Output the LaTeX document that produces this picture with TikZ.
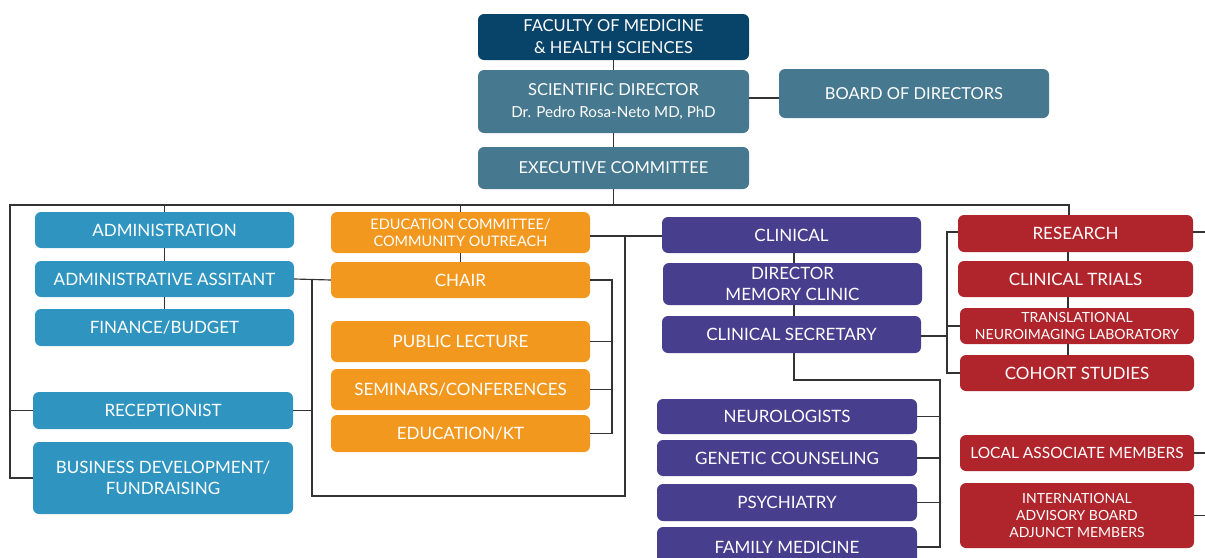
\documentclass[tikz,border=0pt]{standalone}
\usepackage{fontspec}
\setmainfont{Lato}
\definecolor{navy}{HTML}{08446A}
\definecolor{steel}{HTML}{46798F}
\definecolor{cblue}{HTML}{2F95C0}
\definecolor{corange}{HTML}{F3981F}
\definecolor{cpurple}{HTML}{473F8E}
\definecolor{cred}{HTML}{B0252C}
\definecolor{lgray}{HTML}{333333}
\tikzset{
  box/.style={rounded corners=6pt, draw=none, text=white, align=center, inner sep=0pt,
    font=\fontsize{17}{21}\selectfont},
  tp/.style={font=\fontsize{16.5}{22}\selectfont},
  sm/.style={font=\fontsize{14.5}{17.5}\selectfont},
  xs/.style={font=\fontsize{14}{17}\selectfont},
  md/.style={font=\fontsize{15.5}{18}\selectfont},
  link/.style={draw=lgray, line width=1.15pt},
}
\newcommand{\bx}[7]{% name, color, cx, cy, w, h, text
  \node[box, fill=#2, minimum width=#5pt, minimum height=#6pt] (#1) at (#3,#4) {#7};}
\begin{document}
\begin{tikzpicture}[x=1pt,y=-1pt]
\useasboundingbox (0,0) rectangle (1205,557);
\clip (0,0) rectangle (1205,557);
% top
\node[box, tp, fill=navy, minimum width=271pt, minimum height=46pt] (fac) at (613.5,37) {FACULTY OF MEDICINE\\\& HEALTH SCIENCES};
\node[box, tp, fill=steel, minimum width=271pt, minimum height=63pt] (sd) at (613.5,101.5) {SCIENTIFIC DIRECTOR\\{\fontsize{15.2}{18}\selectfont Dr. Pedro Rosa-Neto MD, PhD}};
\node[box, tp, fill=steel, minimum width=270pt, minimum height=49pt] (bod) at (914,93.5) {BOARD OF DIRECTORS};
\node[box, tp, fill=steel, minimum width=271pt, minimum height=42pt] (exec) at (613.5,168) {EXECUTIVE COMMITTEE};
% blue
\bx{adm}{cblue}{164.5}{230}{259}{36}{ADMINISTRATION}
\bx{asst}{cblue}{164.5}{279}{259}{36}{ADMINISTRATIVE ASSITANT}
\bx{fin}{cblue}{164.5}{327.5}{259}{37}{FINANCE/BUDGET}
\bx{recp}{cblue}{163}{410.5}{260}{37}{RECEPTIONIST}
\bx{bus}{cblue}{163}{478}{260}{72}{BUSINESS DEVELOPMENT/\\FUNDRAISING}
% orange
\node[box, sm, fill=corange, minimum width=259pt, minimum height=41pt] (edu) at (460.5,232.5) {EDUCATION COMMITTEE/\\COMMUNITY OUTREACH};
\bx{chair}{corange}{460.5}{280}{259}{36}{CHAIR}
\bx{pub}{corange}{460.5}{341.5}{259}{41}{PUBLIC LECTURE}
\bx{sem}{corange}{460.5}{389.5}{259}{41}{SEMINARS/CONFERENCES}
\bx{kt}{corange}{460.5}{433.5}{259}{37}{EDUCATION/KT}
% purple
\bx{clin}{cpurple}{791.5}{235}{259}{36}{CLINICAL}
\bx{dir}{cpurple}{792.5}{284}{259}{42}{DIRECTOR\\MEMORY CLINIC}
\bx{csec}{cpurple}{791.5}{334.5}{259}{37}{CLINICAL SECRETARY}
\bx{neu}{cpurple}{787}{416.5}{260}{35}{NEUROLOGISTS}
\bx{gen}{cpurple}{787}{458}{260}{36}{GENETIC COUNSELING}
\bx{psy}{cpurple}{787}{502.5}{260}{37}{PSYCHIATRY}
\bx{fam}{cpurple}{787}{547}{260}{40}{FAMILY MEDICINE}
% red
\bx{res}{cred}{1075.5}{233.5}{235}{37}{RESEARCH}
\bx{ct}{cred}{1075.5}{279}{235}{36}{CLINICAL TRIALS}
\node[box, xs, fill=cred, minimum width=234pt, minimum height=36pt] (tnl) at (1077,326) {TRANSLATIONAL\\NEUROIMAGING LABORATORY};
\bx{coh}{cred}{1077}{373}{234}{36}{COHORT STUDIES}
\node[box, md, fill=cred, minimum width=234pt, minimum height=36pt] (loc) at (1077,453) {LOCAL ASSOCIATE MEMBERS};
\node[box, xs, fill=cred, minimum width=234pt, minimum height=65pt] (int) at (1077,515.5) {INTERNATIONAL\\ADVISORY BOARD\\ADJUNCT MEMBERS};
% edge coordinates
\coordinate (e1) at (1205,232);
\coordinate (e2) at (1205,453);
\coordinate (e3) at (1205,515.5);
% connectors top
\draw[link] (fac.south) -- (sd.north);
\draw[link] (sd.east |- 0,98) -- (bod.west |- 0,98);
\draw[link] (sd.south) -- (exec.north);
\draw[link] (exec.south) -- (613.5,205);
% bus
\draw[link] (bus.west) -| (10,205) -- (1069,205) -- (1069,215);
\draw[link] (recp.west) -- (10,410.5);
\draw[link] (adm.north |- 0,205) -- (adm.north);
\draw[link] (adm.south) -- (asst.north);
\draw[link] (asst.south) -- (fin.north);
\draw[link] (edu.north |- 0,205) -- (edu.north);
\draw[link] (edu.south) -- (chair.north);
% left orange bracket
\draw[link] (asst.east) -- (chair.west);
\draw[link] (312,279) -- (312,496) -- (625,496) -- (625,236);
\draw[link] (recp.east) -- (312,410.5);
\draw[link] (edu.east |- 0,236) -- (clin.west |- 0,236);
% right orange bracket
\draw[link] (chair.east) -| (612,433.5) -- (kt.east);
\draw[link] (pub.east) -- (612,341.5);
\draw[link] (sem.east) -- (612,389.5);
% purple
\draw[link] (clin.south -| 794,0) -- (dir.north -| 794,0);
\draw[link] (dir.south -| 794,0) -- (csec.north -| 794,0);
\draw[link] (csec.south -| 794,0) -- (794,380) -- (940,380) |- (fam.east);
\draw[link] (neu.east) -- (940,416.5);
\draw[link] (gen.east) -- (940,458);
\draw[link] (psy.east) -- (940,502.5);
% red bracket
\draw[link] (csec.east |- 0,336) -- (947,336);
\draw[link] (res.west |- 0,232) -| (947,373) -- (coh.west);
\draw[link] (tnl.west) -- (947,326);
\draw[link] (res.south -| 1068,0) -- (ct.north -| 1068,0);
\draw[link] (ct.south -| 1068,0) -- (tnl.north -| 1068,0);
\draw[link] (tnl.south -| 1068,0) -- (coh.north -| 1068,0);
\draw[link] (res.east |- 0,232) -- (e1);
\draw[link] (loc.east) -- (e2);
\draw[link] (int.east) -- (e3);
\end{tikzpicture}
\end{document}
